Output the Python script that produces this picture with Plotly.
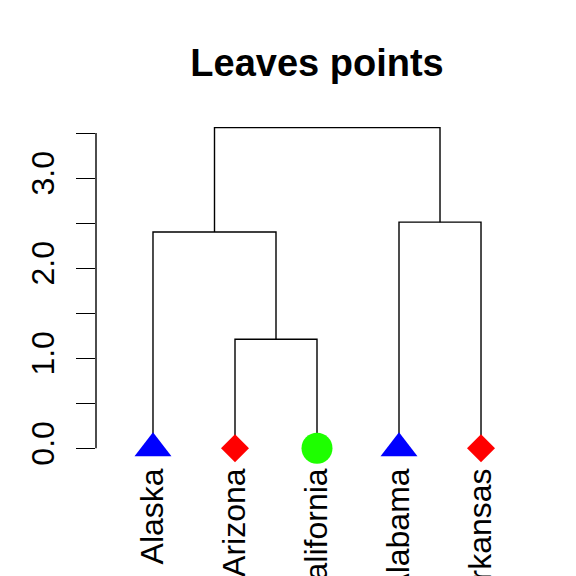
import plotly.graph_objects as go

# Feuilles du dendrogramme (ordre d'affichage)
leaf_labels = ["Alaska", "Arizona", "California", "Alabama", "Arkansas"]
leaf_colors = ["#0000FF", "#FF0000", "#1EFF00", "#0000FF", "#FF0000"]
leaf_symbols = ["triangle-up", "diamond", "circle", "triangle-up", "diamond"]

# Fusions style hclust : négatif = feuille, positif = fusion précédente
merge_left = [-2, -1, -4, 2]
merge_right = [-3, 1, -5, 3]
merge_heights = [1.21, 2.40, 2.51, 3.56]

y_ticks = [0, 0.5, 1.0, 1.5, 2.0, 2.5, 3.0, 3.5]
y_ticktext = ["0.0", "", "1.0", "", "2.0", "", "3.0", ""]

leaf_pos = list(range(1, len(leaf_labels) + 1))

# Positions des noeuds
node_x = []
node_y = []


def _coord(idx):
    if idx < 0:
        return leaf_pos[-idx - 1], 0.0
    return node_x[idx - 1], node_y[idx - 1]


seg_x = []
seg_y = []
for left, right, h in zip(merge_left, merge_right, merge_heights):
    lx, ly = _coord(left)
    rx, ry = _coord(right)
    seg_x += [lx, lx, rx, rx, None]
    seg_y += [ly, h, h, ry, None]
    node_x.append((lx + rx) / 2)
    node_y.append(h)

fig = go.Figure()

fig.add_trace(go.Scatter(
    x=seg_x,
    y=seg_y,
    mode="lines",
    line=dict(color="black", width=1.4),
    hoverinfo="skip",
    cliponaxis=False
))

marker_sizes = {"triangle-up": 32, "diamond": 21.5, "circle": 31}
fig.add_trace(go.Scatter(
    x=leaf_pos,
    y=[0] * len(leaf_pos),
    mode="markers",
    text=leaf_labels,
    hoverinfo="text",
    marker=dict(
        symbol=leaf_symbols,
        color=leaf_colors,
        size=[marker_sizes[s] for s in leaf_symbols],
        opacity=1,
        line=dict(width=0)
    ),
    cliponaxis=False
))

# Ligne de l'axe Y limitée aux graduations (comme dans R)
fig.add_shape(
    type="line", xref="paper", yref="y",
    x0=0, x1=0, y0=min(y_ticks), y1=max(y_ticks),
    line=dict(color="black", width=1.4)
)

# la page HTML ajoute 8 px de marge : on compense
fig.update_layout(
    width=576,
    height=576,
    margin=dict(l=88, r=46, t=107, b=123),
    paper_bgcolor="white",
    plot_bgcolor="white",
    showlegend=False,
    font=dict(family="Liberation Sans, Arial, sans-serif", size=32, color="black"),
    title=dict(
        text="<b>Leaves points</b>",
        x=0.5, xref="paper",
        y=1 - 55 / 576, yref="container", yanchor="middle",
        font=dict(size=38, color="black")
    ),
    xaxis=dict(
        range=[0.305, 5.695],
        tickvals=leaf_pos,
        ticktext=leaf_labels,
        tickangle=-90,
        ticks="",
        ticklabelstandoff=0,
        showline=False,
        showgrid=False,
        zeroline=False,
        automargin=False
    ),
    yaxis=dict(
        range=[-0.142, 3.70],
        tickvals=y_ticks,
        ticktext=y_ticktext,
        tickangle=-90,
        ticks="outside",
        ticklen=19,
        tickwidth=1.4,
        tickcolor="black",
        ticklabelstandoff=9,
        showline=False,
        showgrid=False,
        zeroline=False,
        automargin=False
    )
)

fig.write_html("out.html")
